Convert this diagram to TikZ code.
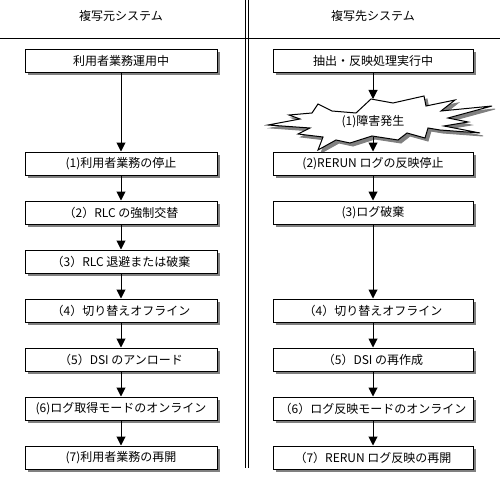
\documentclass[tikz,border=0pt]{standalone}
\usepackage{fontspec}
\setmainfont{Noto Sans CJK JP}
\usetikzlibrary{arrows.meta,shadows}

\tikzset{
  stepbox/.style={draw, line width=1pt, fill=white, minimum height=23pt, inner sep=0pt,
    font=\fontsize{12pt}{14pt}\selectfont,
    drop shadow={shadow xshift=3pt, shadow yshift=-3pt, fill=black!50, opacity=1}},
  srcbox/.style={stepbox, minimum width=192pt},
  dstbox/.style={stepbox, minimum width=200pt},
  headtext/.style={font=\fontsize{12pt}{14pt}\selectfont},
  flow/.style={line width=1pt, -{Triangle[width=9pt,length=9pt]}}
}

\begin{document}
\begin{tikzpicture}[x=1pt,y=-1pt]
  \useasboundingbox (0,0) rectangle (500,484);
  \draw[line width=1pt] (0,39) -- (500,39);
  \draw[line width=1pt] (245,0) -- (245,468);
  \draw[line width=1pt] (248,0) -- (248,468);

  \node[headtext] (srchead) at (121,16) {複写元システム};
  \node[headtext] (dsthead) at (373,16) {複写先システム};

  \node[srcbox] (srcrun) at (121,60.8) {利用者業務運用中};
  \node[srcbox] (src1) at (121,163.5) {(1)利用者業務の停止};
  \node[srcbox] (src2) at (121,212.5) {（2）RLC の強制交替};
  \node[srcbox] (src3) at (121,261.5) {（3）RLC 退避または破棄};
  \node[srcbox] (src4) at (121,310.5) {（4）切り替えオフライン};
  \node[srcbox] (src5) at (121,359.5) {（5）DSI のアンロード};
  \node[srcbox] (src6) at (121,408.5) {(6)ログ取得モードのオンライン};
  \node[srcbox] (src7) at (121,457.5) {(7)利用者業務の再開};

  \node[dstbox] (dstrun) at (373,60.8) {抽出・反映処理実行中};
  \foreach \s/\c/\d in {3/black!50/black!50, 0/white/black}
    \filldraw[fill=\c, draw=\d, line width=1pt, shift={(\s,\s)}]
      (318,104) -- (332,111) -- (356,113) -- (371,99) -- (393,103) -- (424,96)
      -- (426,106) -- (455,100) -- (441,111) -- (492,106) -- (448,118)
      -- (468,122) -- (444,126) -- (480,133) -- (440,130) -- (428,128)
      -- (425,138) -- (407,133) -- (398,140) -- (372,136) -- (350,143)
      -- (336,140) -- (318,150) -- (323,137) -- (298,134) -- (310,128)
      -- (268,125) -- (300,119) -- (289,115) -- (312,113) -- cycle;
  \node[headtext] (dst1) at (373,122) {(1)障害発生};
  \coordinate (startop) at (373,99);
  \coordinate (starbot) at (373,137);
  \node[dstbox] (dst2) at (373,163.5) {(2)RERUN ログの反映停止};
  \node[dstbox] (dst3) at (373,212.5) {(3)ログ破棄};
  \node[dstbox] (dst4) at (373,310.5) {（4）切り替えオフライン};
  \node[dstbox] (dst5) at (373,359.5) {（5）DSI の再作成};
  \node[dstbox] (dst6) at (373,408.5) {（6）ログ反映モードのオンライン};
  \node[dstbox] (dst7) at (373,457.5) {（7）RERUN ログ反映の再開};

  \draw[flow] (srcrun) -- (src1);
  \draw[flow] (src1) -- (src2);
  \draw[flow] (src2) -- (src3);
  \draw[flow] (src3) -- (src4);
  \draw[flow] (src4) -- (src5);
  \draw[flow] (src5) -- (src6);
  \draw[flow] (src6) -- (src7);

  \draw[flow] (dstrun) -- (startop);
  \draw[flow] (starbot) -- (dst2);
  \draw[flow] (dst2) -- (dst3);
  \draw[flow] (dst3) -- (dst4);
  \draw[flow] (dst4) -- (dst5);
  \draw[flow] (dst5) -- (dst6);
  \draw[flow] (dst6) -- (dst7);
\end{tikzpicture}
\end{document}
